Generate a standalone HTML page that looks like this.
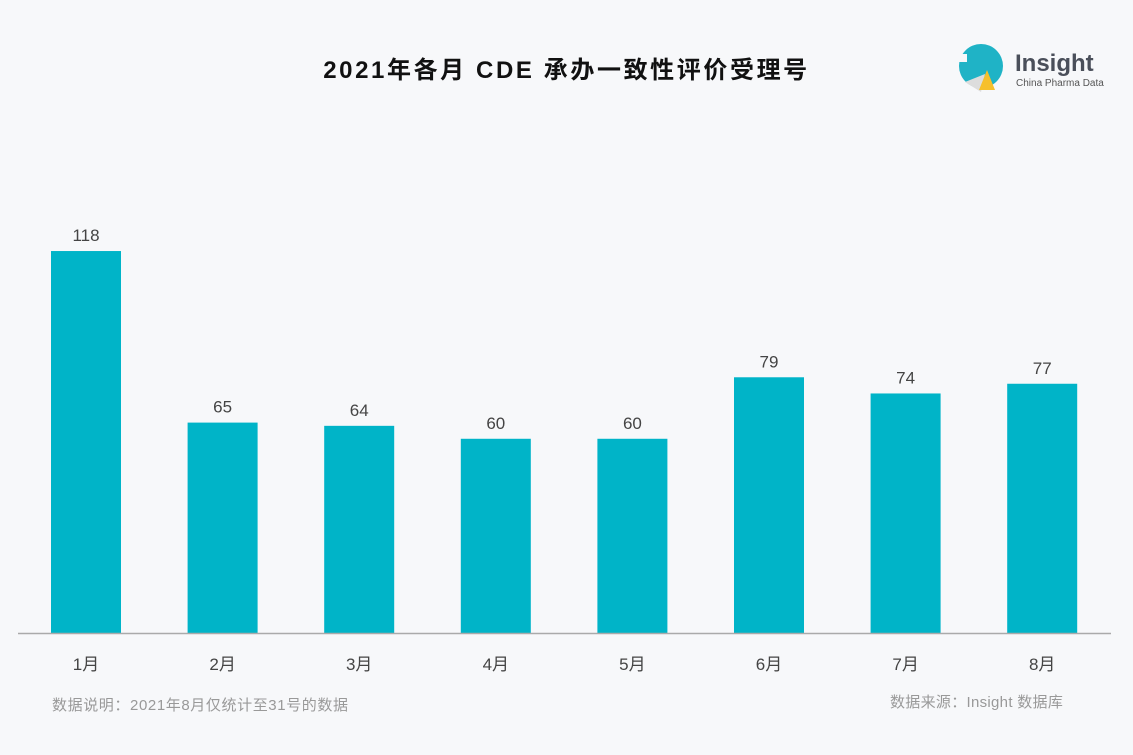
<!DOCTYPE html>
<html><head><meta charset="utf-8"><style>
body{margin:0;width:1133px;height:755px;background:#f7f8fa;font-family:"Liberation Sans","Noto Sans CJK SC",sans-serif;overflow:hidden;position:relative}
.t{position:absolute}
</style></head><body>
<div class="t" style="left:0;width:1133px;top:50px;text-align:center;font-size:24px;font-weight:bold;color:#111;letter-spacing:2.6px">2021年各月 CDE 承办一致性评价受理号</div>
<svg class="t" style="left:955px;top:42px" width="160" height="55">
<circle cx="26" cy="24" r="22" fill="#1fb3c6"/>
<polygon points="10,40 30,32 26,50" fill="#ddd"/>
<polygon points="24,48 32,28 40,48" fill="#f6c02c"/>
<rect x="4" y="12" width="8" height="8" fill="#f7f8fa"/>
<rect x="8" y="22" width="12" height="10" fill="#1fb3c6"/>
<text x="60" y="29" font-family="Liberation Sans" font-weight="bold" font-size="24" fill="#4a4f5a">Insight</text>
<text x="61" y="44" font-family="Liberation Sans" font-size="10" fill="#555">China Pharma Data</text>
</svg>
<svg id="c" class="t" style="left:0;top:0" width="1133" height="755"></svg>
<div class="t" style="left:52px;top:694px;font-size:15px;color:#999;letter-spacing:0.6px">数据说明：2021年8月仅统计至31号的数据</div>
<div class="t" style="left:890px;top:691px;font-size:15px;color:#999;letter-spacing:0.3px">数据来源：Insight 数据库</div>
<script>
const categories=["1月","2月","3月","4月","5月","6月","7月","8月"];
const values=[118,65,64,60,60,79,74,77];
const svg=document.getElementById('c');
const NS='http://www.w3.org/2000/svg';
const baseY=633, pxPer=3.237, x0=86, step=136.6, bw=70;
const xs=i=>x0+i*step, ys=v=>baseY-v*pxPer;
categories.forEach((c,i)=>{
 const r=document.createElementNS(NS,'rect');
 
 
 r.setAttribute('x',xs(i)-bw/2);r.setAttribute('y',ys(values[i]));
 r.setAttribute('width',bw);r.setAttribute('height',baseY-ys(values[i]));
 r.setAttribute('fill','#00b4c8');svg.appendChild(r);
 const t=document.createElementNS(NS,'text');
 
 
 t.setAttribute('x',xs(i));t.setAttribute('y',ys(values[i])-10);
 t.setAttribute('text-anchor','middle');t.setAttribute('font-size','17');t.setAttribute('fill','#444');
 t.textContent=values[i];svg.appendChild(t);
 const l=document.createElementNS(NS,'text');
 
 
 l.setAttribute('x',xs(i));l.setAttribute('y',670);
 l.setAttribute('text-anchor','middle');l.setAttribute('font-size','17');l.setAttribute('fill','#444');
 l.setAttribute('font-family','Liberation Sans, Noto Sans CJK SC, sans-serif');
 l.textContent=c;svg.appendChild(l);
});
const a=document.createElementNS(NS,'line');


a.setAttribute('x1',18);a.setAttribute('x2',1111);a.setAttribute('y1',baseY+0.5);a.setAttribute('y2',baseY+0.5);
a.setAttribute('stroke','#aaa');a.setAttribute('stroke-width','1.5');svg.appendChild(a);
</script>
</body></html>
